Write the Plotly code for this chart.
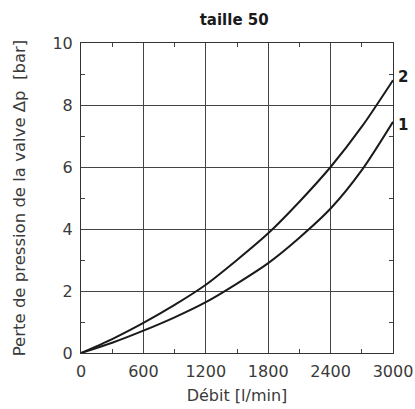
import plotly.graph_objects as go

flow = [0, 300, 600, 900, 1200, 1500, 1800, 2100, 2400, 2700, 3000]
curve1 = [0, 0.33, 0.72, 1.15, 1.64, 2.24, 2.90, 3.72, 4.66, 5.90, 7.46]
curve2 = [0, 0.45, 0.97, 1.55, 2.20, 3.00, 3.86, 4.88, 6.00, 7.30, 8.80]
curve_labels = ["1", "2"]
x_ticks = [0, 600, 1200, 1800, 2400, 3000]
y_ticks = [0, 2, 4, 6, 8, 10]

FONT = "DejaVu Sans"
fig = go.Figure()
for ys, lab, ysh in [(curve1, curve_labels[0], -3), (curve2, curve_labels[1], 3)]:
    fig.add_trace(go.Scatter(x=flow, y=ys, mode="lines",
                             line=dict(color="#1a1a1a", width=2, shape="spline", smoothing=0.8),
                             showlegend=False, hoverinfo="skip"))
    fig.add_annotation(x=flow[-1], y=ys[-1], text="<b>" + lab + "</b>", showarrow=False,
                       xanchor="left", yanchor="middle", xshift=3, yshift=ysh,
                       font=dict(family=FONT, size=15, color="#1a1a1a"))

axis_common = dict(showline=True, linecolor="#333", linewidth=1, mirror="allticks",
                   showgrid=True, gridcolor="#444", gridwidth=1, zeroline=False,
                   ticks="inside", ticklen=0, tickcolor="#444", automargin=False,
                   tickfont=dict(family=FONT, size=16, color="#3a3a3a"))

fig.update_layout(
    width=415, height=409,
    margin=dict(l=81, r=22, t=43, b=56),
    paper_bgcolor="white", plot_bgcolor="white",
    title=dict(text="<b>taille 50</b>", xref="paper", x=0.491, xanchor="center",
               yref="container", y=1 - 20 / 409, yanchor="middle",
               font=dict(family=FONT, size=15, color="#1a1a1a")),
    xaxis=dict(range=[0, 3000], tickvals=x_ticks, ticklabelstandoff=4,
               title=dict(text="Débit [l/min]", font=dict(family=FONT, size=16, color="#3a3a3a"), standoff=9),
               minor=dict(ticks="inside", ticklen=4, dtick=300, tick0=0, tickcolor="#444", showgrid=False),
               **axis_common),
    yaxis=dict(range=[0, 10], tickvals=y_ticks, ticklabelstandoff=4,
               title=dict(text="Perte de pression de la valve Δp\u00a0\u00a0[bar]",
                          font=dict(family=FONT, size=16.5, color="#3a3a3a"), standoff=22),
               minor=dict(ticks="inside", ticklen=4, dtick=1, tick0=0, tickcolor="#444", showgrid=False),
               **axis_common),
)
fig.write_html("out.html", config={"displayModeBar": False},
               post_script="document.body.style.margin='0';document.body.style.overflow='hidden';")
